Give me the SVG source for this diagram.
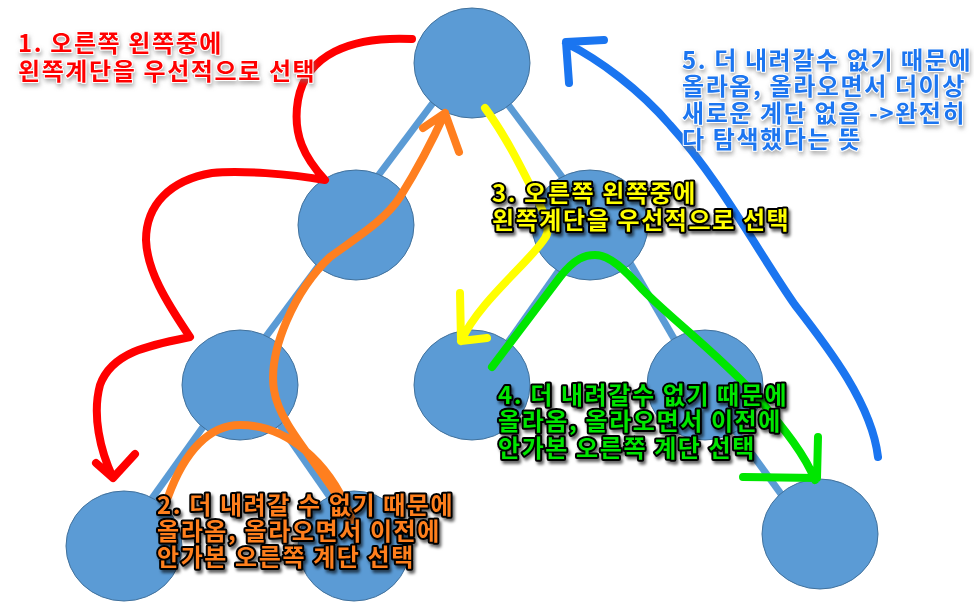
<svg xmlns="http://www.w3.org/2000/svg" width="974" height="609" viewBox="0 0 974 609">
<defs>
<style>
.node{fill:#5b9bd5;stroke:#41719c;stroke-width:1}
.edge{stroke:#5b9bd5;stroke-width:7;fill:none}
.pen{fill:none;stroke-linecap:round;stroke-linejoin:round;stroke-width:8}
.lbl{font-family:"Noto Sans CJK KR","Noto Sans",sans-serif;font-weight:bold;font-size:24px;letter-spacing:1.6px;paint-order:stroke;stroke-linejoin:round}
.dark{stroke:#000;stroke-width:4;filter:url(#sh)}
.light{stroke:#fff;stroke-width:2;filter:url(#shl)}
</style>
<filter id="sh" x="-10%" y="-20%" width="120%" height="150%">
<feDropShadow dx="2" dy="3" stdDeviation="1.5" flood-color="#000" flood-opacity="0.6"/>
</filter>
<filter id="shl" x="-10%" y="-20%" width="120%" height="150%">
<feDropShadow dx="1" dy="3" stdDeviation="2" flood-color="#777" flood-opacity="0.6"/>
</filter>
</defs>
<rect width="974" height="609" fill="#fff"/>
<g id="connectors">
<line class="edge" x1="463" y1="63" x2="341" y2="225"/>
<line class="edge" x1="477" y1="63" x2="598" y2="225"/>
<line class="edge" x1="349" y1="225" x2="230" y2="385"/>
<line class="edge" x1="233" y1="385" x2="118" y2="546"/>
<line class="edge" x1="252" y1="385" x2="364" y2="546"/>
<line class="edge" x1="591" y1="225" x2="478" y2="385"/>
<line class="edge" x1="608" y1="225" x2="701" y2="385"/>
<line class="edge" x1="702" y1="385" x2="810" y2="534"/>
</g>
<g id="node-a"><ellipse class="node" cx="472" cy="63" rx="58" ry="55"/></g>
<g id="node-b"><ellipse class="node" cx="356" cy="225" rx="58" ry="55"/></g>
<g id="node-c"><ellipse class="node" cx="590" cy="225" rx="58" ry="55"/></g>
<g id="node-d"><ellipse class="node" cx="240" cy="385" rx="58" ry="55"/></g>
<g id="node-e"><ellipse class="node" cx="124" cy="546" rx="58" ry="55"/></g>
<g id="node-f"><ellipse class="node" cx="354" cy="546" rx="56" ry="55"/></g>
<g id="node-g"><ellipse class="node" cx="472" cy="385" rx="58" ry="55"/></g>
<g id="node-h"><ellipse class="node" cx="705" cy="385" rx="58" ry="55"/></g>
<g id="node-i"><ellipse class="node" cx="820" cy="534" rx="58" ry="55"/></g>
<g id="annotations">
<path class="pen" stroke="#ff0000" d="M412,39 C350,36 306,55 298,100 C292,135 305,158 325,180 C290,174 240,170 212,173 C170,180 146,205 146,240 C147,270 165,300 190,337 C150,345 112,352 100,385 C92,415 100,450 113,478 M96,463 L113,478 L135,454"/>
<path class="pen" stroke="#ff7f1f" stroke-width="7" d="M168,497 C185,450 210,425 240,425 C285,425 330,460 352,520 C322,465 280,428 274,390 C268,350 295,290 330,257 C360,235 385,220 400,197 C420,165 435,135 445,113 M423,128 L445,113 L459,152"/>
<path class="pen" stroke="#ffff00" stroke-width="7" d="M485,108 C505,135 520,165 535,195 C545,215 552,228 545,238 C530,262 480,300 461,341 M460,293 L461,341 L487,338"/>
<path class="pen" stroke="#00e600" d="M492,367 L560,277 C575,258 585,255 595,255 C610,255 625,270 643,290 C670,318 720,355 760,400 C785,430 805,455 815,480 M818,437 L817,478 L743,477"/>
<path class="pen" stroke="#1a75f0" d="M878,457 C872,405 830,350 795,305 C760,255 720,180 670,125 C640,90 600,60 566,43 M604,40 L566,42 L569,83"/>
</g>
<g id="labels">
<text class="lbl light" fill="#ff0000"><tspan x="18" y="52">1. 오른쪽 왼쪽중에</tspan><tspan x="18" y="80">왼쪽계단을 우선적으로 선택</tspan></text>
<text class="lbl light" fill="#1a75f0"><tspan x="682" y="69">5. 더 내려갈수 없기 때문에</tspan><tspan x="682" y="95">올라옴, 올라오면서 더이상</tspan><tspan x="682" y="122">새로운 계단 없음 -&gt;완전히</tspan><tspan x="682" y="148">다 탐색했다는 뜻</tspan></text>
<text class="lbl dark" fill="#ffff00"><tspan x="492" y="202">3. 오른쪽 왼쪽중에</tspan><tspan x="492" y="229">왼쪽계단을 우선적으로 선택</tspan></text>
<text class="lbl dark" fill="#00e600"><tspan x="498" y="404">4. 더 내려갈수 없기 때문에</tspan><tspan x="498" y="430">올라옴, 올라오면서 이전에</tspan><tspan x="498" y="457">안가본 오른쪽 계단 선택</tspan></text>
<text class="lbl dark" fill="#ff7f1f"><tspan x="157" y="514">2. 더 내려갈 수 없기 때문에</tspan><tspan x="157" y="540">올라옴, 올라오면서 이전에</tspan><tspan x="157" y="566">안가본 오른쪽 계단 선택</tspan></text>
</g>
</svg>
